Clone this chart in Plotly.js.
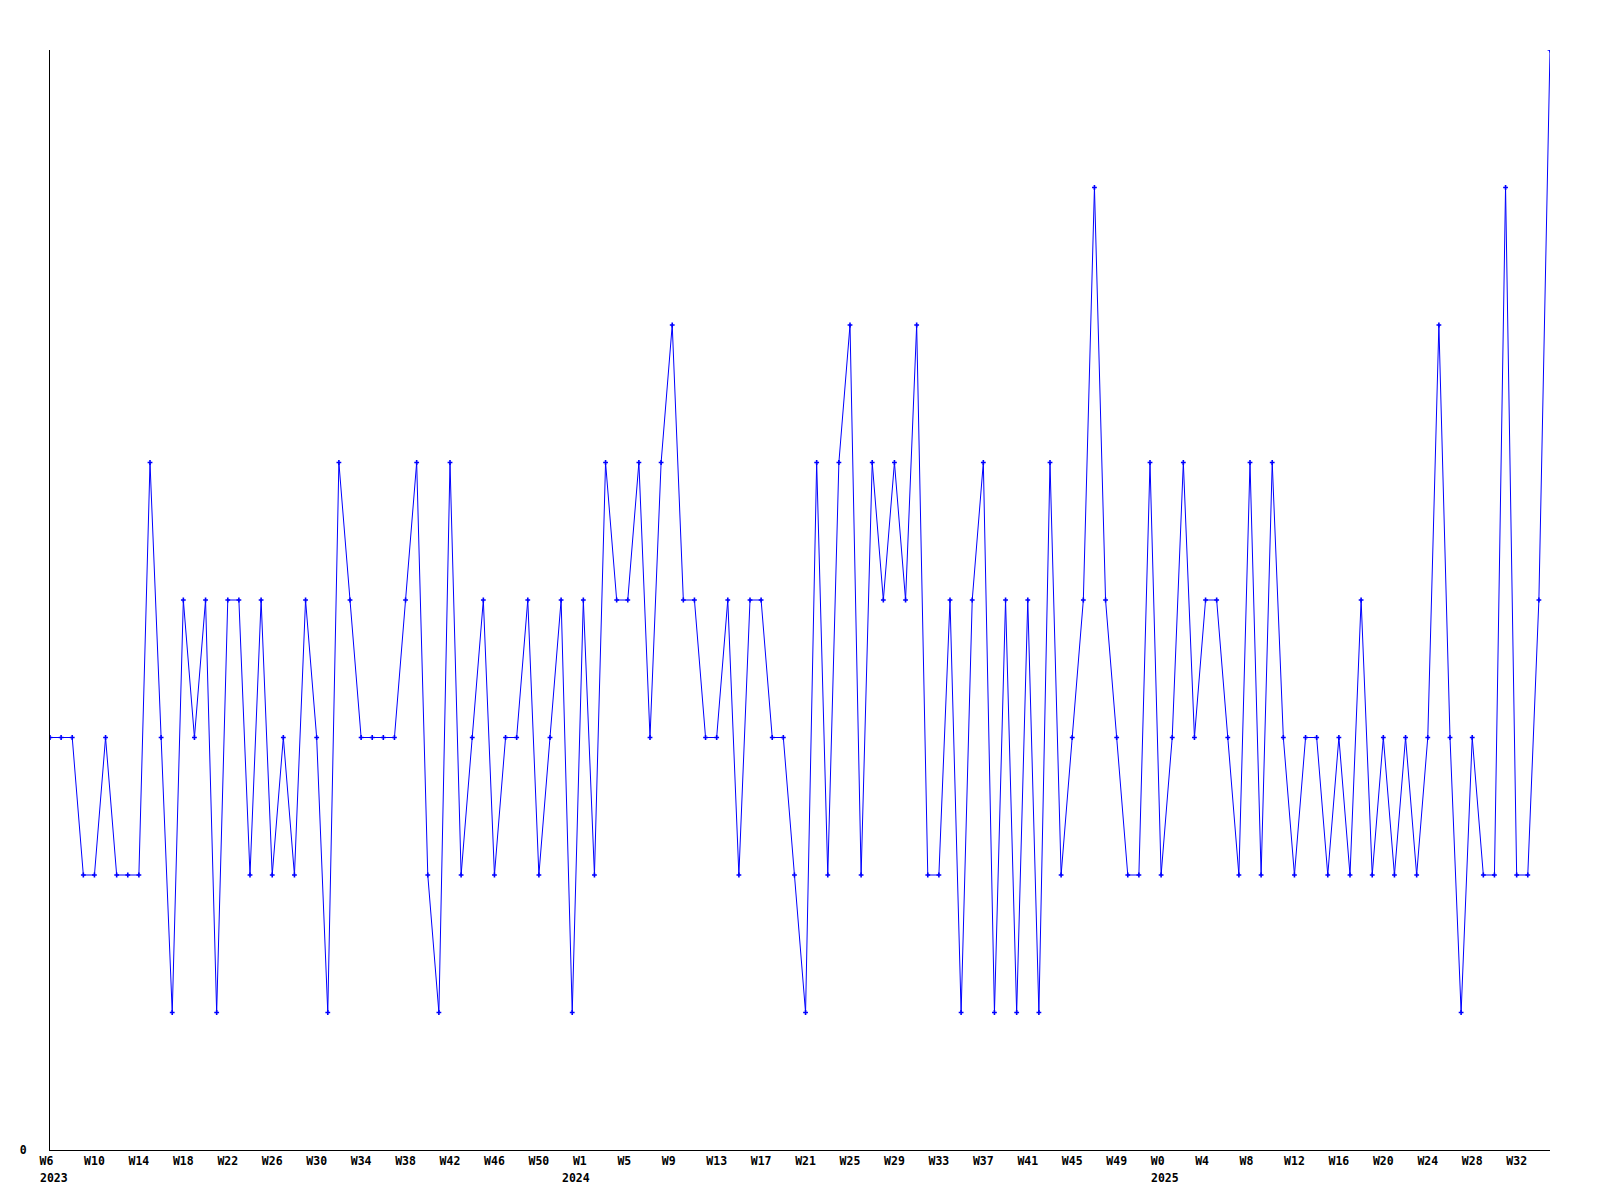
<!DOCTYPE html>
<html>
<head>
<meta charset="utf-8">
<script src="https://cdn.plot.ly/plotly-3.0.1.min.js"></script>
<style>html,body{margin:0;padding:0;background:#fff;}#chart{width:1600px;height:1200px;}</style>
</head>
<body>
<div id="chart"></div>
<script>
// Years covered and the week numbers in each (as labelled on the axis)
const years = [2023, 2024, 2025];
const firstWeek = [6, 1, 0];
const lastWeek = [53, 52, 35];

// Weekly values, in order (136 weeks)
const values = [
  3,3,3,2,2,3,2,2,2,5, 3,1,4,3,4,1,4,4,2,4,
  2,3,2,4,3,1,5,4,3,3, 3,3,4,5,2,1,5,2,3,4,
  2,3,3,4,2,3,4,1,4,2, 5,4,4,5,3,5,6,4,4,3,
  3,4,2,4,4,3,3,2,1,5, 2,5,6,2,5,4,5,4,6,2,
  2,4,1,4,5,1,4,1,4,1, 5,2,3,4,7,4,3,2,2,5,
  2,3,5,3,4,4,3,2,5,2, 5,3,2,3,3,2,3,2,4,2,
  3,2,3,2,3,6,3,1,3,2, 2,7,2,2,4,8
];

// Tick labels shown on the x axis (every 4th week)
const tickLabels = ['W6','W10','W14','W18','W22','W26','W30','W34','W38','W42','W46','W50',
  'W1','W5','W9','W13','W17','W21','W25','W29','W33','W37','W41','W45','W49',
  'W0','W4','W8','W12','W16','W20','W24','W28','W32'];
const yearLabels = ['2023','2024','2025'];
const yTickLabels = ['0'];

// Build category names: "2023 W6", ...
const cats = [];
const yearStartCat = [];
years.forEach((y, k) => {
  yearStartCat.push(cats.length);
  for (let w = firstWeek[k]; w <= lastWeek[k]; w++) cats.push(y + ' W' + w);
});

const tickvals = [];
const ticktext = [];
let t = 0;
cats.forEach((c, i) => {
  const wk = c.split(' ')[1];
  if (t < tickLabels.length && wk === tickLabels[t] && i % 4 === 0) {
    tickvals.push(c);
    ticktext.push(wk.length === 2 ? wk + '\u00a0' : wk);
    t++;
  }
});

const font = {family: 'DejaVu Sans Mono, Liberation Mono, monospace', size: 11.5, color: '#000', weight: 'bold'};

const yearShift = [3.6, -7.7, 3.4];
const annotations = yearLabels.map((lab, k) => ({
  x: yearStartCat[k], xref: 'x', y: 0, yref: 'paper',
  text: lab, showarrow: false, xanchor: 'center', yanchor: 'middle',
  xshift: yearShift[k], yshift: -28, font: font
}));

const trace = {
  x: cats, y: values, type: 'scatter', mode: 'lines+markers',
  line: {color: '#0000ff', width: 1},
  marker: {symbol: 'cross', size: 4, color: '#0000ff'},
  hoverinfo: 'skip'
};

const layout = {
  width: 1600, height: 1200,
  margin: {l: 50, r: 50, t: 50, b: 50},
  paper_bgcolor: '#fff', plot_bgcolor: '#fff',
  showlegend: false,
  font: font,
  xaxis: {
    type: 'category', range: [0, cats.length - 1],
    showline: true, linecolor: '#000', linewidth: 1,
    showgrid: false, zeroline: false,
    tickmode: 'array', tickvals: tickvals, ticktext: ticktext,
    ticks: '', tickfont: font, automargin: false
  },
  yaxis: {
    range: [0, 8], showline: true, linecolor: '#000', linewidth: 1,
    showgrid: false, zeroline: false,
    tickmode: 'array', tickvals: [0], ticktext: yTickLabels,
    ticks: 'outside', ticklen: 20, tickcolor: 'rgba(0,0,0,0)',
    tickfont: font, automargin: false
  },
  annotations: annotations
};

Plotly.newPlot('chart', [trace], layout, {staticPlot: true, displayModeBar: false});
</script>
</body>
</html>
